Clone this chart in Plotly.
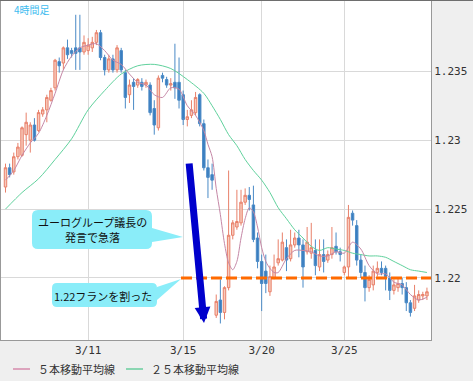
import plotly.graph_objects as go

# ---------------- data ----------------
period_label = "4時間足"
x_tick_labels = ["3/11", "3/15", "3/20", "3/25"]
x_tick_bars = [20, 43, 62, 82]
y_tick_vals = [1.22, 1.225, 1.23, 1.235]
y_tick_text = ["1.22", "1.225", "1.23", "1.235"]
break_level = 1.22

open_ = [1.2266, 1.2280, 1.2277, 1.2288, 1.2289, 1.2304, 1.2300, 1.2311, 1.2307, 1.2319,
         1.2322, 1.2329, 1.2338, 1.2357, 1.2356, 1.2367, 1.2365, 1.2367, 1.2367, 1.2364,
         1.2365, 1.2367, 1.2371, 1.2378, 1.2360, 1.2351, 1.2359, 1.2351, 1.2365, 1.2349,
         1.2333, 1.2342, 1.2340, 1.2342, 1.2340, 1.2340, 1.2323, 1.2309, 1.2347, 1.2344,
         1.2340, 1.2342, 1.2342, 1.2333, 1.2315, 1.2318, 1.2320, 1.2333, 1.2312, 1.2280,
         1.2275, 1.2173, 1.2184, 1.2175, 1.2193, 1.2231, 1.2237, 1.2240, 1.2255, 1.2260,
         1.2253, 1.2229, 1.2212, 1.2205, 1.2190, 1.2200, 1.2211, 1.2213, 1.2222, 1.2214,
         1.2224, 1.2229, 1.2224, 1.2219, 1.2218, 1.2220, 1.2208, 1.2217, 1.2213, 1.2217,
         1.2223, 1.2219, 1.2204, 1.2208, 1.2247, 1.2238, 1.2213, 1.2204, 1.2193, 1.2195,
         1.2204, 1.2207, 1.2207, 1.2200, 1.2191, 1.2193, 1.2196, 1.2193, 1.2182, 1.2178,
         1.2184, 1.2187, 1.2187]
high = [1.2283, 1.2283, 1.2291, 1.2298, 1.2310, 1.2320, 1.2313, 1.2316, 1.2322, 1.2324,
        1.2333, 1.2338, 1.2359, 1.2360, 1.2368, 1.2373, 1.2367, 1.2391, 1.2391, 1.2376,
        1.2374, 1.2375, 1.2380, 1.2380, 1.2362, 1.2362, 1.2362, 1.2369, 1.2367, 1.2351,
        1.2344, 1.2345, 1.2345, 1.2345, 1.2344, 1.2342, 1.2329, 1.2347, 1.2349, 1.2346,
        1.2345, 1.2370, 1.2360, 1.2336, 1.2322, 1.2329, 1.2335, 1.2334, 1.2315, 1.2286,
        1.2283, 1.2188, 1.2199, 1.2194, 1.2278, 1.2242, 1.2264, 1.2264, 1.2265, 1.2266,
        1.2267, 1.2233, 1.2217, 1.2217, 1.2209, 1.2217, 1.2228, 1.2233, 1.2228, 1.2235,
        1.2233, 1.2235, 1.2228, 1.2237, 1.2240, 1.2228, 1.2228, 1.2228, 1.2220, 1.2237,
        1.2233, 1.2222, 1.2209, 1.2253, 1.2249, 1.2242, 1.2217, 1.2209, 1.2202, 1.2209,
        1.2212, 1.2212, 1.2209, 1.2204, 1.2199, 1.2200, 1.2200, 1.2197, 1.2184, 1.2195,
        1.2191, 1.2190, 1.2193]
low = [1.2262, 1.2273, 1.2275, 1.2286, 1.2288, 1.2296, 1.2291, 1.2299, 1.2306, 1.2317,
       1.2313, 1.2328, 1.2336, 1.2349, 1.2351, 1.2359, 1.2360, 1.2351, 1.2351, 1.2362,
       1.2362, 1.2364, 1.2369, 1.2358, 1.2347, 1.2349, 1.2349, 1.2349, 1.2349, 1.2323,
       1.2327, 1.2322, 1.2338, 1.2336, 1.2338, 1.2318, 1.2304, 1.2307, 1.2342, 1.2338,
       1.2336, 1.2330, 1.2323, 1.2311, 1.2310, 1.2316, 1.2318, 1.2310, 1.2278, 1.2258,
       1.2264, 1.2171, 1.2167, 1.2170, 1.2191, 1.2228, 1.2235, 1.2238, 1.2253, 1.2249,
       1.2226, 1.2207, 1.2176, 1.2189, 1.2187, 1.2199, 1.2209, 1.2212, 1.2205, 1.2212,
       1.2222, 1.2215, 1.2193, 1.2217, 1.2214, 1.2202, 1.2205, 1.2204, 1.2211, 1.2214,
       1.2217, 1.2212, 1.2202, 1.2200, 1.2238, 1.2209, 1.2200, 1.2183, 1.2190, 1.2191,
       1.2201, 1.2202, 1.2191, 1.2184, 1.2188, 1.2190, 1.2188, 1.2176, 1.2172, 1.2176,
       1.2182, 1.2184, 1.2184]
close = [1.2280, 1.2275, 1.2288, 1.2295, 1.2309, 1.2313, 1.2311, 1.2300, 1.2320, 1.2322,
         1.2331, 1.2336, 1.2358, 1.2354, 1.2367, 1.2362, 1.2363, 1.2363, 1.2364, 1.2371,
         1.2369, 1.2371, 1.2378, 1.2360, 1.2351, 1.2359, 1.2351, 1.2367, 1.2351, 1.2331,
         1.2340, 1.2339, 1.2344, 1.2339, 1.2342, 1.2320, 1.2311, 1.2345, 1.2345, 1.2340,
         1.2341, 1.2338, 1.2329, 1.2315, 1.2317, 1.2322, 1.2331, 1.2312, 1.2280, 1.2273,
         1.2271, 1.2183, 1.2175, 1.2193, 1.2231, 1.2240, 1.2241, 1.2255, 1.2260, 1.2257,
         1.2228, 1.2212, 1.2196, 1.2196, 1.2201, 1.2208, 1.2214, 1.2226, 1.2213, 1.2224,
         1.2229, 1.2224, 1.2208, 1.2226, 1.2222, 1.2209, 1.2217, 1.2212, 1.2217, 1.2222,
         1.2219, 1.2217, 1.2208, 1.2244, 1.2242, 1.2213, 1.2204, 1.2193, 1.2199, 1.2205,
         1.2207, 1.2204, 1.2201, 1.2191, 1.2195, 1.2196, 1.2193, 1.2182, 1.2175, 1.2187,
         1.2188, 1.2188, 1.2190]

ma5_bars = [0, 2, 4, 6, 8, 10, 12, 14, 16, 18, 20, 22, 24, 26, 28, 30, 32, 34, 36, 38,
            40, 42, 44, 46, 48, 49, 50, 51, 52, 53, 54, 55, 56, 57, 58, 59, 60, 61, 62, 63,
            64, 65, 66, 68, 70, 72, 74, 76, 78, 80, 82, 84, 86, 88, 90, 92, 94, 96, 98, 100, 102]
ma5_vals = [1.2271, 1.2278, 1.2289, 1.2298, 1.2305, 1.2318, 1.2334, 1.2351, 1.2361, 1.2367,
            1.2369, 1.2370, 1.2365, 1.2358, 1.2355, 1.2348, 1.2342, 1.2340, 1.2333, 1.2331,
            1.2338, 1.2337, 1.2325, 1.2318, 1.2307, 1.2297, 1.2288, 1.2265, 1.2246, 1.2225,
            1.2211, 1.2206, 1.2212, 1.2229, 1.2243, 1.2251, 1.2248, 1.2237, 1.2222, 1.2212,
            1.2207, 1.2204, 1.2204, 1.2214, 1.2220, 1.2220, 1.2219, 1.2216, 1.2216, 1.2219,
            1.2218, 1.2226, 1.2221, 1.2209, 1.2203, 1.2203, 1.2197, 1.2195, 1.2188, 1.2184, 1.2186]

ma25_bars = [0, 4, 8, 12, 16, 20, 24, 28, 32, 36, 40, 44, 48, 50, 52, 54, 56, 58, 60, 62,
             64, 66, 68, 70, 72, 74, 76, 78, 80, 82, 84, 86, 88, 90, 92, 94, 96, 98, 100, 102]
ma25_vals = [1.2250, 1.2262, 1.2272, 1.2286, 1.2301, 1.2322, 1.2336, 1.2348, 1.2354, 1.2355,
             1.2352, 1.2344, 1.2334, 1.2325, 1.2315, 1.2304, 1.2296, 1.2286, 1.2278, 1.2271,
             1.2262, 1.2251, 1.2243, 1.2235, 1.2229, 1.2223, 1.2220, 1.2222, 1.2221, 1.2220,
             1.2218, 1.2217, 1.2216, 1.2216, 1.2215, 1.2212, 1.2209, 1.2206, 1.2205, 1.2204]

legend_names = ["５本移動平均線", "２５本移動平均線"]
note1_lines = ["ユーログループ議長の", "発言で急落"]
note2_text = "1.22フランを割った"

# ---------------- figure ----------------
W, H = 473, 381
ML, MR, MT, MB = 1, 42, 1, 41
PW, PH = W - ML - MR, H - MT - MB


def px(x):
    return (x - ML) / PW


def py(y):
    return (MT + PH - y) / PH


bars = list(range(len(close)))

fig = go.Figure()
fig.add_trace(go.Candlestick(
    x=bars, open=open_, high=high, low=low, close=close,
    increasing=dict(line=dict(color="#e8806a", width=1), fillcolor="#f8cbbd"),
    decreasing=dict(line=dict(color="#4a8ac6", width=1), fillcolor="#3a7ec0"),
    whiskerwidth=0, showlegend=False, hoverinfo="skip",
))
fig.add_trace(go.Scatter(x=ma25_bars, y=ma25_vals, mode="lines",
                         line=dict(color="#5fd19c", width=1, shape="spline", smoothing=0.8),
                         showlegend=False, hoverinfo="skip"))
fig.add_trace(go.Scatter(x=ma5_bars, y=ma5_vals, mode="lines",
                         line=dict(color="#c587a6", width=1, shape="spline", smoothing=0.8),
                         showlegend=False, hoverinfo="skip"))

CYAN = "#8aedf9"


def callout(x0, y0, x1, y1, r, t0, t1, tip):
    def P(x, y):
        return f"{px(x):.5f},{py(y):.5f}"
    s = f"M{P(x0 + r, y0)} L{P(x1 - r, y0)} Q{P(x1, y0)} {P(x1, y0 + r)} "
    s += f"L{P(x1, t0)} L{P(tip[0], tip[1])} L{P(x1, t1)} "
    s += f"L{P(x1, y1 - r)} Q{P(x1, y1)} {P(x1 - r, y1)} L{P(x0 + r, y1)} "
    s += f"Q{P(x0, y1)} {P(x0, y1 - r)} L{P(x0, y0 + r)} Q{P(x0, y0)} {P(x0 + r, y0)} Z"
    return s


shapes = [
    dict(type="path", xref="paper", yref="paper",
         path=callout(32, 210, 152, 249, 6, 228, 242, (183, 237)),
         fillcolor=CYAN, line=dict(width=0), layer="above"),
    dict(type="path", xref="paper", yref="paper",
         path=callout(52, 283, 157, 307, 5, 287, 300, (181, 279)),
         fillcolor=CYAN, line=dict(width=0), layer="above"),
    dict(type="line", xref="paper", yref="y", x0=px(181), x1=1.0,
         y0=break_level, y1=break_level,
         line=dict(color="#ff6a00", width=3, dash="11px,4px"), layer="above"),
    # top frame
    dict(type="line", xref="paper", yref="paper", x0=px(0), x1=px(W),
         y0=py(0.5), y1=py(0.5), line=dict(color="#6e6e6e", width=1)),
    # legend samples
    dict(type="line", xref="paper", yref="paper", x0=px(13), x1=px(30),
         y0=py(369), y1=py(369), line=dict(color="#dca4bd", width=2)),
    dict(type="line", xref="paper", yref="paper", x0=px(126), x1=px(143),
         y0=py(369), y1=py(369), line=dict(color="#8bd6b2", width=2)),
]

JP = "Noto Sans CJK JP"
annotations = [
    dict(text=period_label, xref="paper", yref="paper", x=px(12), y=py(9),
         xanchor="left", yanchor="middle", showarrow=False,
         font=dict(family=JP, size=10, color="#3dbcef")),
    dict(text=note1_lines[0], xref="paper", yref="paper", x=px(92), y=py(222),
         xanchor="center", yanchor="middle", showarrow=False,
         font=dict(family=JP, size=11, color="#111")),
    dict(text=note1_lines[1], xref="paper", yref="paper", x=px(92), y=py(237),
         xanchor="center", yanchor="middle", showarrow=False,
         font=dict(family=JP, size=11, color="#111")),
    dict(text=note2_text, xref="paper", yref="paper", x=px(103), y=py(296),
         xanchor="center", yanchor="middle", showarrow=False,
         font=dict(family=JP, size=11, color="#111")),
    dict(text="", xref="paper", yref="paper", x=px(204), y=py(323),
         ax=-15, ay=-161, showarrow=True, arrowhead=2, arrowsize=0.45,
         arrowwidth=7, arrowcolor="#0000cc"),
    dict(text=legend_names[0], xref="paper", yref="paper", x=px(36), y=py(369),
         xanchor="left", yanchor="middle", showarrow=False,
         font=dict(family=JP, size=11, color="#333")),
    dict(text=legend_names[1], xref="paper", yref="paper", x=px(149), y=py(369),
         xanchor="left", yanchor="middle", showarrow=False,
         font=dict(family=JP, size=11, color="#333")),
]

fig.update_layout(
    width=W, height=H, margin=dict(l=ML, r=MR, t=MT, b=MB, pad=0),
    paper_bgcolor="#efefef", plot_bgcolor="#ffffff",
    boxgap=0.3, boxgroupgap=0.15,
    shapes=shapes, annotations=annotations, showlegend=False,
    xaxis=dict(range=[-1.09, 102.98], rangeslider=dict(visible=False),
               tickvals=x_tick_bars, ticktext=x_tick_labels, showgrid=True,
               gridcolor="#d9d9d9", gridwidth=1, zeroline=False,
               showline=True, mirror=True, linecolor="#999", linewidth=1,
               ticks="", tickfont=dict(family="DejaVu Sans Mono", size=11, color="#333")),
    yaxis=dict(range=[1.2155, 1.2401], side="right", tickvals=y_tick_vals,
               ticktext=y_tick_text, showgrid=True, gridcolor="#d9d9d9", gridwidth=1,
               zeroline=False, showline=True, mirror=True, linecolor="#999", linewidth=1,
               ticks="", tickfont=dict(family="DejaVu Sans Mono", size=11, color="#333")),
)

fig.write_html("out.html")
